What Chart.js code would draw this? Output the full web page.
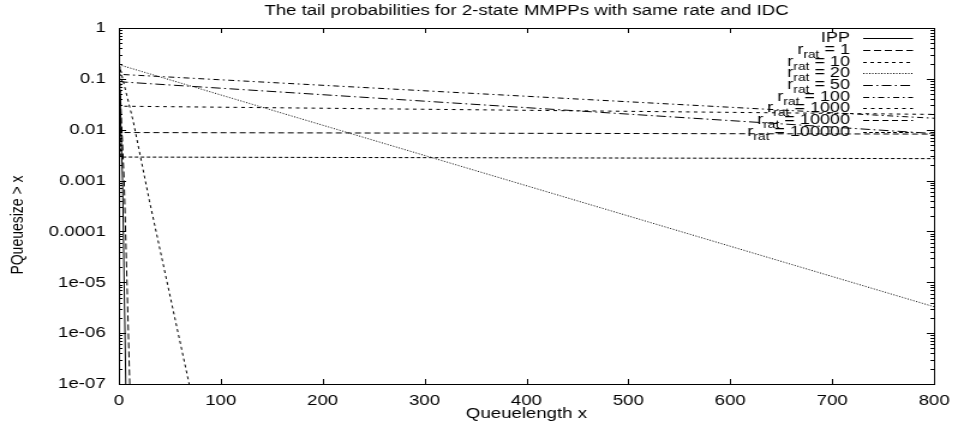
<!DOCTYPE html>
<html>
<head>
<meta charset="utf-8">
<script src="https://cdn.jsdelivr.net/npm/chart.js@4.4.1/dist/chart.umd.min.js"></script>
<style>
  html, body { margin: 0; padding: 0; background: #fff; overflow: hidden; }
  #wrap { width: 798px; height: 425px; transform: scaleX(1.2005); transform-origin: 0 0; }
  canvas { display: block; }
</style>
</head>
<body>
<div id="wrap"><canvas id="c" width="798" height="425"></canvas></div>
<script>
// Tail probabilities P(Queuesize > x) for 2-state MMPPs (log scale)
const chartTitle = 'The tail probabilities for 2-state MMPPs with same rate and IDC';
const xAxisTitle = 'Queuelength x';
const yAxisTitle = 'PQueuesize > x';

const xTicks = [0, 100, 200, 300, 400, 500, 600, 700, 800];
const yTickValues = [1e-7, 1e-6, 1e-5, 1e-4, 1e-3, 1e-2, 1e-1, 1];
const yTickLabels = ['1e-07', '1e-06', '1e-05', '0.0001', '0.001', '0.01', '0.1', '1'];

// series names: IPP, then r_rat values
const seriesNames = ['IPP', '1', '10', '20', '50', '100', '1000', '10000', '100000'];

const ippX = [0, 3.6, 6.8];
const ippP = [0.2, 1e-3, 1e-7];
const r1X = [0, 5.2, 10.7];
const r1P = [0.2, 1e-3, 1e-7];
const r10X = [0, 14, 30, 69];
const r10P = [0.2, 0.015, 4e-4, 1e-7];
const r20X = [0, 800];
const r20P = [0.19, 3.3e-6];
const r50X = [0, 3, 800];
const r50P = [0.2, 0.087, 0.0084];
const r100X = [0, 3, 800];
const r100P = [0.2, 0.122, 0.0168];
const r1000X = [0, 2, 800];
const r1000P = [0.2, 0.029, 0.02];
const r10000X = [0, 2, 800];
const r10000P = [0.2, 0.0088, 0.0082];
const r100000X = [0, 2, 800];
const r100000P = [0.2, 0.0029, 0.0027];

const seriesX = [ippX, r1X, r10X, r20X, r50X, r100X, r1000X, r10000X, r100000X];
const seriesP = [ippP, r1P, r10P, r20P, r50P, r100P, r1000P, r10000P, r100000P];
const dashes = [[], [6, 3], [3, 3], [1, 1.5], [8, 3, 1.5, 3], [5, 3, 1.5, 3], [3, 3.5], [5, 3], [3, 2]];

const FONT = 'Liberation Sans, Arial, sans-serif';

const datasets = seriesNames.map((name, i) => ({
  label: name,
  data: seriesX[i].map((x, j) => ({ x: x, y: seriesP[i][j] })),
  borderColor: '#000',
  borderWidth: 1,
  borderDash: dashes[i],
  pointRadius: 0,
  fill: false,
  tension: 0
}));

const framePlugin = {
  id: 'gnuFrame',
  afterDraw(chart) {
    const ctx = chart.ctx;
    const a = chart.chartArea;
    const ys = chart.scales.y;
    const xs = chart.scales.x;
    ctx.save();
    ctx.strokeStyle = '#000';
    ctx.lineWidth = 1;
    ctx.setLineDash([]);
    // frame
    ctx.strokeRect(Math.round(a.left) + 0.5, Math.round(a.top) + 0.5,
                   Math.round(a.right - a.left), Math.round(a.bottom - a.top));
    ctx.beginPath();
    // y ticks, major and minor (inward, both sides)
    yTickValues.forEach(v => {
      const py = Math.round(ys.getPixelForValue(v)) + 0.5;
      ctx.moveTo(a.left, py); ctx.lineTo(a.left + 6, py);
      ctx.moveTo(a.right, py); ctx.lineTo(a.right - 6, py);
      if (v < 1) {
        for (let k = 2; k <= 9; k++) {
          const pm = Math.round(ys.getPixelForValue(v * k)) + 0.5;
          ctx.moveTo(a.left, pm); ctx.lineTo(a.left + 3, pm);
          ctx.moveTo(a.right, pm); ctx.lineTo(a.right - 3, pm);
        }
      }
    });
    // x ticks (inward, top and bottom)
    xTicks.forEach(v => {
      const px = Math.round(xs.getPixelForValue(v)) + 0.5;
      ctx.moveTo(px, a.bottom); ctx.lineTo(px, a.bottom - 5);
      ctx.moveTo(px, a.top); ctx.lineTo(px, a.top + 5);
    });
    ctx.stroke();

    ctx.fillStyle = '#000';
    // title
    ctx.font = '15.5px ' + FONT;
    ctx.textAlign = 'center';
    ctx.textBaseline = 'middle';
    ctx.fillText(chartTitle, (a.left + a.right) / 2, 11);
    // x axis title
    ctx.fillText(xAxisTitle, (a.left + a.right) / 2, 414);
    // y axis title
    ctx.save();
    ctx.translate(15.3, 225);
    ctx.rotate(-Math.PI / 2);
    ctx.font = '14px ' + FONT;
    ctx.fillText(yAxisTitle, 0, 0);
    ctx.restore();

    // key: right-aligned text, line sample to the right
    const textRight = 708, sampleL = 719, sampleR = 760.5;
    const y0 = 38.3, dy = 11.65;
    const mainFont = '15px ' + FONT, subFont = '11.5px ' + FONT;
    seriesNames.forEach((name, i) => {
      const y = y0 + dy * i;
      ctx.textAlign = 'left';
      ctx.textBaseline = 'middle';
      if (i === 0) {
        ctx.font = mainFont;
        const w = ctx.measureText(name).width;
        ctx.fillText(name, textRight - w, y);
      } else {
        ctx.font = mainFont;
        const w1 = ctx.measureText('r').width;
        const tail = ' = ' + name;
        const w3 = ctx.measureText(tail).width;
        ctx.font = subFont;
        const w2 = ctx.measureText('rat').width;
        let x = textRight - (w1 + w2 + w3);
        ctx.font = mainFont;
        ctx.fillText('r', x, y);
        x += w1;
        ctx.font = subFont;
        ctx.fillText('rat', x, y + 5);
        x += w2;
        ctx.font = mainFont;
        ctx.fillText(tail, x, y);
      }
      ctx.beginPath();
      ctx.setLineDash(dashes[i]);
      ctx.moveTo(sampleL, Math.round(y) + 0.5);
      ctx.lineTo(sampleR, Math.round(y) + 0.5);
      ctx.stroke();
    });
    ctx.restore();
  }
};

new Chart(document.getElementById('c'), {
  type: 'line',
  data: { datasets: datasets },
  options: {
    responsive: false,
    animation: false,
    devicePixelRatio: 1,
    layout: { padding: { left: 0, right: 17, top: 28, bottom: 0 } },
    plugins: { legend: { display: false }, tooltip: { enabled: false }, title: { display: false } },
    scales: {
      x: {
        type: 'linear',
        min: 0,
        max: 800,
        afterBuildTicks: s => { s.ticks = xTicks.map(v => ({ value: v })); },
        afterFit: s => { s.height = 41; },
        grid: { display: false, drawTicks: false },
        border: { display: false },
        ticks: { padding: 7, color: '#000', font: { family: FONT, size: 15.5 }, maxRotation: 0, autoSkip: false }
      },
      y: {
        type: 'logarithmic',
        min: 1e-7,
        max: 1,
        afterBuildTicks: s => { s.ticks = yTickValues.map(v => ({ value: v })); },
        afterFit: s => { s.width = 99; },
        grid: { display: false, drawTicks: false },
        border: { display: false },
        ticks: {
          padding: 11,
          color: '#000',
          font: { family: FONT, size: 15.5 },
          autoSkip: false,
          callback: v => yTickLabels[yTickValues.findIndex(t => Math.abs(Math.log10(t) - Math.log10(v)) < 1e-6)]
        }
      }
    }
  },
  plugins: [framePlugin]
});
</script>
</body>
</html>
